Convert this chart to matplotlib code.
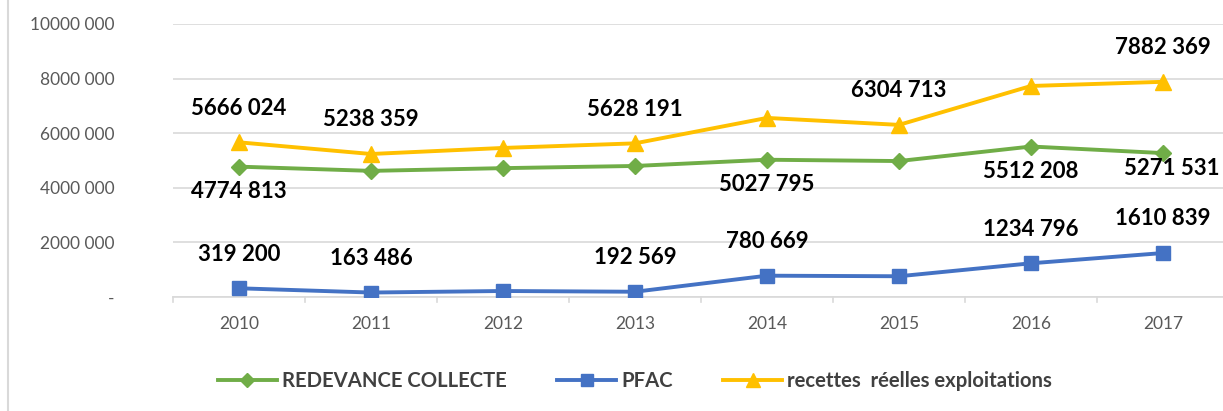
import matplotlib
matplotlib.use("Agg")
import matplotlib.pyplot as plt
from matplotlib.lines import Line2D

plt.rcParams['font.family'] = ['Lato', 'DejaVu Sans']

years = ["2010", "2011", "2012", "2013", "2014", "2015", "2016", "2017"]
redevance = [4774813, 4620000, 4720000, 4800000, 5027795, 4980000, 5512208, 5271531]
pfac = [319200, 163486, 220000, 192569, 780669, 760000, 1234796, 1610839]
recettes = [5666024, 5238359, 5460000, 5628191, 6560000, 6304713, 7730000, 7882369]

# which points carry a data label (as in the original chart)
redevance_lbl = [0, 4, 6, 7]
pfac_lbl = [0, 1, 3, 4, 6, 7]
recettes_lbl = [0, 1, 3, 5, 7]

GREEN = "#70AD47"
BLUE = "#4472C4"
YELLOW = "#FFC000"


def fmt(v):
    if v == 0:
        return "-"
    return f"{v // 1000} {v % 1000:03d}"


fig = plt.figure(figsize=(12.23, 4.11), dpi=100)
ax = fig.add_axes([173 / 1223, 1 - 297 / 411, 1 - 173 / 1223, (297 - 24) / 411])

x = list(range(len(years)))
ax.plot(x, redevance, color=GREEN, lw=2.8, marker="D", ms=8, zorder=3)
ax.plot(x, pfac, color=BLUE, lw=2.8, marker="s", ms=10, zorder=3)
ax.plot(x, recettes, color=YELLOW, lw=2.8, marker="^", ms=11, zorder=3)

lbl_kw = dict(ha="center", va="center", fontsize=16, fontweight="bold", color="black",
              textcoords="offset points")
for i in redevance_lbl:
    # last label sits to the right, Excel nudged it inside the plot
    off = (6, -11) if i == len(years) - 1 else (0, -18)
    ax.annotate(fmt(redevance[i]), (i, redevance[i]), xytext=off, **lbl_kw)
for i in pfac_lbl:
    ax.annotate(fmt(pfac[i]), (i, pfac[i]), xytext=(0, 24.5), **lbl_kw)
for i in recettes_lbl:
    ax.annotate(fmt(recettes[i]), (i, recettes[i]), xytext=(0, 24.5), **lbl_kw)

ax.set_ylim(0, 10000000)
ax.set_xlim(-0.5, -0.5 + (1223 - 173) / 132)
yt = [0, 2000000, 4000000, 6000000, 8000000, 10000000]
ax.set_yticks(yt)
ax.set_yticklabels([fmt(v) for v in yt])
ax.set_xticks(x)
ax.set_xticklabels(years)
ax.tick_params(axis="y", length=0, labelsize=12.5, labelcolor="#595959", pad=42)
ax.tick_params(axis="x", length=0, labelsize=12.5, labelcolor="#595959", pad=14)
ax.grid(axis="y", color="#D9D9D9", lw=1.2)
ax.set_axisbelow(True)
for s in ["top", "right", "left"]:
    ax.spines[s].set_visible(False)
ax.spines["bottom"].set_color("#D9D9D9")
ax.spines["bottom"].set_linewidth(1.2)
# category boundary tick marks
for b in range(len(years)):
    ax.plot([b - 0.5, b - 0.5], [0, -0.02], transform=ax.get_xaxis_transform(),
            color="#D9D9D9", lw=1.2, clip_on=False)

handles = [
    Line2D([], [], color=GREEN, lw=2.8, marker="D", ms=7),
    Line2D([], [], color=BLUE, lw=2.8, marker="s", ms=9),
    Line2D([], [], color=YELLOW, lw=2.8, marker="^", ms=10),
]
labels = ["REDEVANCE COLLECTE", "PFAC", "recettes  réelles exploitations"]
leg = fig.legend(handles, labels, loc="center", bbox_to_anchor=(635 / 1223, 1 - 381 / 411),
                 ncol=3, frameon=False, handlelength=2.9, columnspacing=2.5,
                 handletextpad=0.25, prop=dict(size=14.6, weight="bold"))
for t in leg.get_texts():
    t.set_color("#404040")

fig.add_artist(Line2D([8 / 1223, 8 / 1223], [0, 1], color="#D9D9D9", lw=1.5))

fig.savefig("out.png", dpi=100)
